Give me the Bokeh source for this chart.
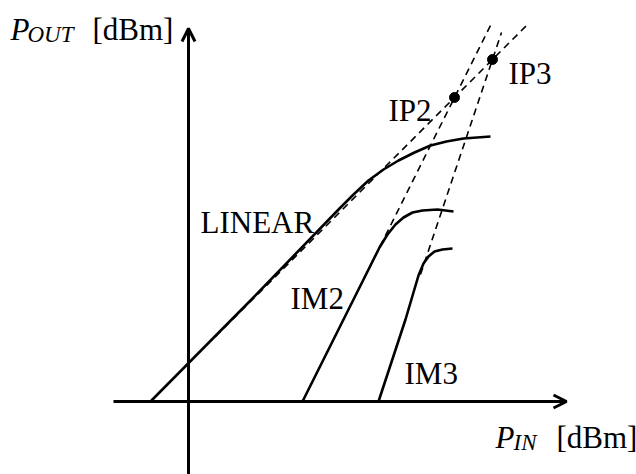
from bokeh.plotting import figure
from bokeh.models import Range1d, Arrow, OpenHead
from bokeh.core.properties import value
from bokeh.embed import file_html
from bokeh.resources import INLINE

# --- output power vs input power (arbitrary dB units, origin at axis crossing) ---
# fundamental (linear) response with gain compression
lin_x = [-38, 60, 152, 165, 180, 195, 210, 226, 242, 258, 275, 302]
lin_y = [0, 99, 194, 207, 221, 232, 241, 249, 256, 260, 263, 265]

# second-order intermodulation product
im2_x = [114, 182, 191, 199, 207, 215, 224, 234, 249, 265]
im2_y = [0, 136, 154, 167, 177, 184, 189, 191, 192, 190]

# third-order intermodulation product
im3_x = [190, 217, 230, 235, 240, 246, 254, 264]
im3_y = [0, 82, 126, 138, 145, 150, 152, 153]

# extrapolated small-signal asymptotes (slopes 1, 2 and 3)
asym_lin_x = [27, 340]
asym_lin_y = [65, 378]
asym_im2_x = [170, 302]
asym_im2_y = [112, 376]
asym_im3_x = [232, 313]
asym_im3_y = [127, 369]

# intercept points
ip_names = ["IP2", "IP3"]
ip_x = [266, 304]
ip_y = [304, 342]

# curve labels
curve_labels = ["LINEAR", "IM2", "IM3"]

FONT = value("Liberation Serif")
FS = "31px"

p = figure(width=636, height=474,
           x_range=Range1d(-188, 448), y_range=Range1d(-73, 401),
           x_axis_type=None, y_axis_type=None,
           min_border=0, output_backend="svg", toolbar_location=None)
p.grid.visible = False
p.outline_line_color = None
p.background_fill_color = "white"
p.border_fill_color = "white"

# axes with arrow heads
p.add_layout(Arrow(end=OpenHead(size=13, line_width=3, line_color="black"),
                   x_start=-75, y_start=0, x_end=378, y_end=0,
                   line_width=3, line_color="black"))
p.add_layout(Arrow(end=OpenHead(size=13, line_width=3, line_color="black"),
                   x_start=0, y_start=-73, x_end=0, y_end=373,
                   line_width=3, line_color="black"))

# dashed asymptotes
for ax, ay in [(asym_lin_x, asym_lin_y), (asym_im2_x, asym_im2_y), (asym_im3_x, asym_im3_y)]:
    p.line(ax, ay, line_color="black", line_width=1.6, line_dash="7 5")

# measured responses
for cx, cy in [(lin_x, lin_y), (im2_x, im2_y), (im3_x, im3_y)]:
    p.line(cx, cy, line_color="black", line_width=2.6, line_join="round")

# intercept points
p.scatter(ip_x, ip_y, size=10, color="black")

# labels
p.text(x=[12, 102, 216], y=[179, 103, 28], text=curve_labels,
       text_font=FONT, text_font_size=FS, text_color="black",
       text_align="left", text_baseline="alphabetic")
p.text(x=[200, 320], y=[291, 328], text=ip_names,
       text_font=FONT, text_font_size=FS, text_color="black",
       text_align="left", text_baseline="alphabetic")

# axis titles: P_OUT [dBm] and P_IN [dBm]
p.text(x=[-178, 307], y=[372, -36], text=["P", "P"],
       text_font=FONT, text_font_size=FS, text_font_style="italic",
       text_align="left", text_baseline="alphabetic")
p.text(x=[-161, 325], y=[367, -41], text=["OUT", "IN"],
       text_font=FONT, text_font_size="23px", text_font_style="italic",
       text_align="left", text_baseline="alphabetic")
p.text(x=[-96, 368], y=[372, -36], text=["[dBm]", "[dBm]"],
       text_font=FONT, text_font_size=FS,
       text_align="left", text_baseline="alphabetic")

open("out.html", "w").write(file_html(p, INLINE))
